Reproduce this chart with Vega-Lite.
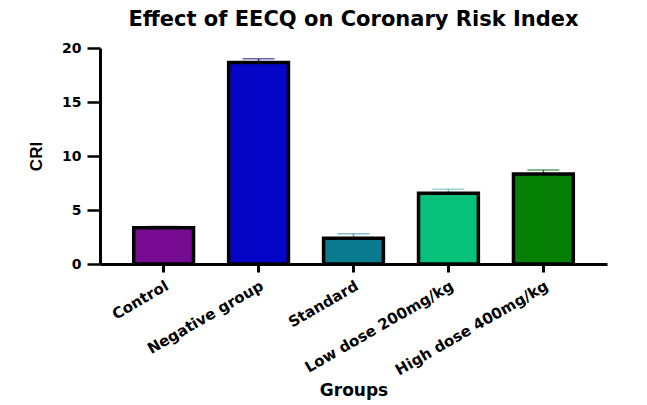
{
  "$schema": "https://vega.github.io/schema/vega-lite/v6.json",
  "autosize": "none",
  "width": 507,
  "height": 216,
  "padding": {"left": 100, "top": 48, "right": 40, "bottom": 141},
  "background": "white",
  "title": {
    "text": "Effect of EECQ on Coronary Risk Index",
    "font": "DejaVu Sans",
    "fontSize": 21,
    "fontWeight": "bold",
    "color": "black",
    "anchor": "middle",
    "offset": 11
  },
  "config": {
    "view": {"stroke": null},
    "axis": {"grid": false, "domainColor": "black", "tickColor": "black", "labelColor": "black", "titleColor": "black"}
  },
  "data": {
    "values": [
      {"group": "Control", "cri": 3.35, "upper": 3.5},
      {"group": "Negative group", "cri": 18.65, "upper": 19.0},
      {"group": "Standard", "cri": 2.38, "upper": 2.8},
      {"group": "Low dose 200mg/kg", "cri": 6.55, "upper": 6.92},
      {"group": "High dose 400mg/kg", "cri": 8.33, "upper": 8.7}
    ]
  },
  "encoding": {
    "x": {
      "field": "group",
      "type": "nominal",
      "sort": null,
      "title": "Groups",
      "scale": {"paddingInner": 0.37, "paddingOuter": 0.355},
      "axis": {
        "domainWidth": 3,
        "tickWidth": 3,
        "tickSize": 8,
        "labelAngle": -30,
        "labelAlign": "right",
        "labelBaseline": "top",
        "labelFont": "DejaVu Sans",
        "labelFontWeight": "bold",
        "labelFontSize": 15,
        "labelPadding": 6,
        "titleFont": "DejaVu Sans",
        "titleFontWeight": "bold",
        "titleFontSize": 17,
        "titlePadding": 5
      }
    }
  },
  "layer": [
    {
      "mark": {"type": "rule", "strokeWidth": 1.5},
      "encoding": {
        "y": {"field": "cri", "type": "quantitative"},
        "y2": {"field": "upper"},
        "color": {
          "field": "group",
          "type": "nominal",
          "legend": null,
          "scale": {
            "domain": ["Control", "Negative group", "Standard", "Low dose 200mg/kg", "High dose 400mg/kg"],
            "range": ["#b88ac8", "#23238c", "#4aa3b3", "#6cc3c0", "#1a7a2a"]
          }
        }
      }
    },
    {
      "mark": {"type": "tick", "size": 32, "thickness": 1.5},
      "encoding": {
        "y": {"field": "upper", "type": "quantitative"},
        "color": {"field": "group", "type": "nominal", "legend": null}
      }
    },
    {
      "mark": {"type": "bar", "stroke": "black", "strokeWidth": 3.5},
      "encoding": {
        "y": {
          "field": "cri",
          "type": "quantitative",
          "title": "CRI",
          "scale": {"domain": [0, 20], "nice": false},
          "axis": {
            "values": [0, 5, 10, 15, 20],
            "domainWidth": 3,
            "tickWidth": 2.5,
            "tickSize": 13,
            "labelFont": "DejaVu Sans",
            "labelFontWeight": "bold",
            "labelFontSize": 14,
            "labelPadding": 6,
            "titleFont": "Liberation Sans",
            "titleFontWeight": "bold",
            "titleFontSize": 17,
            "titlePadding": 16
          }
        },
        "fill": {
          "field": "group",
          "type": "nominal",
          "legend": null,
          "scale": {
            "domain": ["Control", "Negative group", "Standard", "Low dose 200mg/kg", "High dose 400mg/kg"],
            "range": ["#760b91", "#0505c8", "#0a7a8f", "#07c07a", "#058005"]
          }
        }
      }
    }
  ]
}
